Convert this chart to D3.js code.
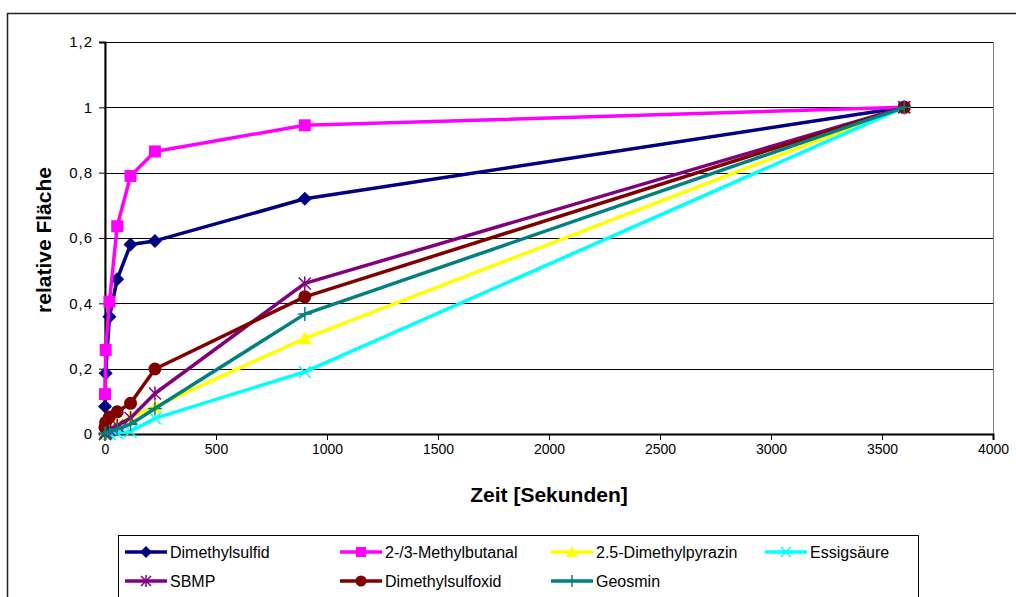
<!DOCTYPE html>
<html>
<head>
<meta charset="utf-8">
<script src="https://cdn.jsdelivr.net/npm/d3@7"></script>
<style>
  html, body { margin: 0; padding: 0; background: #fff; }
  svg { display: block; font-family: "Liberation Sans", Arial, sans-serif; }
</style>
</head>
<body>
<svg id="chart" width="1016" height="597"></svg>
<script>
// Sampling times in seconds
const times = [0, 3, 20, 55, 115, 225, 900, 3600];

// Relative peak areas per compound
const dimethylsulfid    = [0.084, 0.186, 0.359, 0.474, 0.580, 0.591, 0.720, 1.0];
const methylbutanal     = [0.122, 0.257, 0.405, 0.636, 0.790, 0.865, 0.945, 1.0];
const dimethylpyrazin   = [0.000, 0.005, 0.015, 0.030, 0.052, 0.084, 0.293, 1.0];
const essigsaeure       = [0.000, 0.000, 0.000, 0.002, 0.008, 0.048, 0.190, 1.0];
const sbmp              = [0.000, 0.005, 0.012, 0.025, 0.049, 0.124, 0.461, 1.0];
const dimethylsulfoxid  = [0.020, 0.036, 0.052, 0.068, 0.094, 0.199, 0.420, 1.0];
const geosmin           = [0.000, 0.003, 0.008, 0.015, 0.030, 0.078, 0.367, 1.0];

const seriesNames = ["Dimethylsulfid", "2-/3-Methylbutanal", "2.5-Dimethylpyrazin", "Essigsäure",
                     "SBMP", "Dimethylsulfoxid", "Geosmin"];
const seriesValues = [dimethylsulfid, methylbutanal, dimethylpyrazin, essigsaeure,
                      sbmp, dimethylsulfoxid, geosmin];
const seriesColors = ["#000080", "#FF00FF", "#FFFF00", "#00FFFF", "#800080", "#800000", "#008080"];
const seriesMarkers = ["diamond", "square", "triangle", "x", "star", "circle", "plus"];

const xTicks = [0, 500, 1000, 1500, 2000, 2500, 3000, 3500, 4000];
const yTicks = [0, 0.2, 0.4, 0.6, 0.8, 1.0, 1.2];
const xTitle = "Zeit [Sekunden]";
const yTitle = "relative Fläche";

const svg = d3.select("#chart");
const plot = { left: 105, top: 42, right: 993, bottom: 434 };

const x = d3.scaleLinear().domain([0, 4000]).range([plot.left, plot.right]);
const y = d3.scaleLinear().domain([0, 1.2]).range([plot.bottom, plot.top]);

// outer chart frame
svg.append("rect")
  .attr("x", 7.5).attr("y", 13.5).attr("width", 1030).attr("height", 620)
  .attr("fill", "#fff").attr("stroke", "#222").attr("stroke-width", 1.5);

// plot area frame
svg.append("rect")
  .attr("x", plot.left).attr("y", plot.top + 0.5)
  .attr("width", plot.right - plot.left + 0.5).attr("height", plot.bottom - plot.top)
  .attr("fill", "#fff").attr("stroke", "#808080").attr("stroke-width", 1);

// horizontal gridlines
svg.append("g").selectAll("line")
  .data(yTicks.filter(d => d > 0))
  .join("line")
  .attr("x1", plot.left).attr("x2", plot.right)
  .attr("y1", d => Math.round(y(d)) + 0.5).attr("y2", d => Math.round(y(d)) + 0.5)
  .attr("stroke", "#000").attr("stroke-width", 1);

const fmtComma = d => d3.format("~g")(d).replace(".", ",");

// y axis
const yAxis = svg.append("g")
  .attr("transform", `translate(${plot.left},0)`)
  .call(d3.axisLeft(y).tickValues(yTicks).tickSize(6).tickPadding(6).tickFormat(fmtComma));
yAxis.select(".domain").attr("stroke", "#000").attr("stroke-width", 2);
yAxis.selectAll(".tick line").attr("stroke", "#000");
yAxis.selectAll(".tick text").attr("font-size", 15).attr("fill", "#000")
  .attr("letter-spacing", 1)
  .attr("font-family", "Liberation Sans, Arial, sans-serif");

// x axis
const xAxis = svg.append("g")
  .attr("transform", `translate(0,${plot.bottom})`)
  .call(d3.axisBottom(x).tickValues(xTicks).tickSize(6).tickPadding(4).tickFormat(d3.format("d")));
xAxis.select(".domain").attr("stroke", "#000").attr("stroke-width", 2);
xAxis.selectAll(".tick line").attr("stroke", "#000");
xAxis.selectAll(".tick text").attr("font-size", 14).attr("fill", "#000")
  .attr("font-family", "Liberation Sans, Arial, sans-serif");

// axis titles
svg.append("text")
  .attr("x", 549).attr("y", 502).attr("text-anchor", "middle")
  .attr("font-size", 21).attr("font-weight", "bold").text(xTitle);
svg.append("text")
  .attr("transform", "translate(51,240) rotate(-90)").attr("text-anchor", "middle")
  .attr("font-size", 21).attr("font-weight", "bold").text(yTitle);

// marker drawing
function drawMarker(g, type, color, s) {
  const h = s / 2;
  switch (type) {
    case "diamond":
      g.append("path").attr("d", `M0,${-h - 1}L${h + 1},0L0,${h + 1}L${-h - 1},0Z`).attr("fill", color);
      break;
    case "square":
      g.append("rect").attr("x", -h).attr("y", -h).attr("width", s).attr("height", s).attr("fill", color);
      break;
    case "triangle":
      g.append("path").attr("d", `M0,${-h - 1}L${h + 1},${h}L${-h - 1},${h}Z`).attr("fill", color);
      break;
    case "circle":
      g.append("circle").attr("r", h + 0.5).attr("fill", color);
      break;
    case "x":
      g.append("path").attr("d", `M${-h},${-h}L${h},${h}M${-h},${h}L${h},${-h}`)
        .attr("stroke", color).attr("stroke-width", 1.5);
      break;
    case "plus":
      g.append("path").attr("d", `M0,${-h - 1}L0,${h + 1}M${-h - 1},0L${h + 1},0`)
        .attr("stroke", color).attr("stroke-width", 1.5);
      break;
    case "star":
      g.append("path").attr("d", `M${-h},${-h}L${h},${h}M${-h},${h}L${h},${-h}M0,${-h - 1}L0,${h + 1}`)
        .attr("stroke", color).attr("stroke-width", 1.5);
      break;
  }
}

const line = d3.line().x(d => x(d[0])).y(d => y(d[1]));

seriesValues.forEach((vals, i) => {
  const pts = times.map((t, k) => [t, vals[k]]);
  const g = svg.append("g");
  g.append("path").datum(pts).attr("d", line)
    .attr("fill", "none").attr("stroke", seriesColors[i]).attr("stroke-width", 3.5)
    .attr("stroke-linejoin", "round");
  g.selectAll("g.m").data(pts).join("g").attr("class", "m")
    .attr("transform", d => `translate(${x(d[0])},${y(d[1])})`)
    .each(function () { drawMarker(d3.select(this), seriesMarkers[i], seriesColors[i], 12); });
});

// legend
const legend = svg.append("g");
legend.append("rect")
  .attr("x", 118.5).attr("y", 535.5).attr("width", 800).attr("height", 80)
  .attr("fill", "#fff").attr("stroke", "#000").attr("stroke-width", 1);
const colX = [125, 340, 551, 765];
const rowY = [552, 581];
seriesNames.forEach((name, i) => {
  const cx = colX[i % 4], cy = rowY[Math.floor(i / 4)];
  const g = legend.append("g").attr("transform", `translate(${cx},${cy})`);
  g.append("line").attr("x1", 0).attr("x2", 42).attr("y1", 0).attr("y2", 0)
    .attr("stroke", seriesColors[i]).attr("stroke-width", 3.5);
  const mg = g.append("g").attr("transform", "translate(21,0)");
  drawMarker(mg, seriesMarkers[i], seriesColors[i], 10);
  g.append("text").attr("x", 45).attr("y", 6).attr("font-size", 16).text(name);
});
</script>
</body>
</html>
